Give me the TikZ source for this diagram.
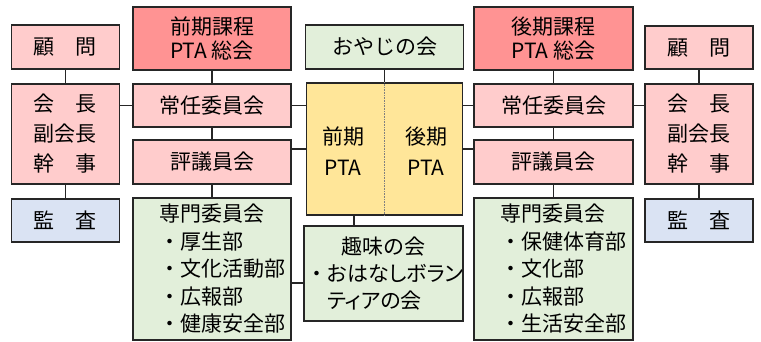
\documentclass[tikz,border=0pt]{standalone}
\usepackage{fontspec}
\newfontfamily\jpfont{Noto Sans CJK JP}
\newfontfamily\jpprop{Noto Sans CJK JP}[RawFeature=+palt]
\definecolor{pinkL}{HTML}{FFCCCC}
\definecolor{pinkD}{HTML}{FF9393}
\definecolor{greenL}{HTML}{E2EFDA}
\definecolor{yellowL}{HTML}{FFE699}
\definecolor{blueL}{HTML}{DAE3F3}
\tikzset{
  box/.style={draw=black!85, line width=1.5pt, inner sep=0pt, align=center,
    font=\jpfont\fontsize{21}{27}\selectfont},
  pinkbox/.style={box, fill=pinkL},
  redbox/.style={box, fill=pinkD},
  greenbox/.style={box, fill=greenL},
  yellowbox/.style={box, fill=yellowL},
  bluebox/.style={box, fill=blueL},
  link/.style={line width=1.5pt, black!85},
}

\begin{document}
\begin{tikzpicture}[x=1pt, y=-1pt]
  \useasboundingbox (0,0) rectangle (761,342);
  % left side
  \node[pinkbox, minimum width=108, minimum height=44] (komonL) at (65.5,47) {顧　問};
  \node[pinkbox, minimum width=108, minimum height=100,
    font=\jpfont\fontsize{21}{30}\selectfont] (kaichoL) at (65.5,134) {会　長\\副会長\\幹　事};
  \node[bluebox, minimum width=108, minimum height=43] (kansaL) at (65.5,220.5) {監　査};
  \node[redbox, minimum width=158, minimum height=63,
    font=\jpfont\fontsize{21}{24}\selectfont] (zenkiSokai) at (212,38.5) {前期課程\\PTA 総会};
  \node[pinkbox, minimum width=158, minimum height=43] (jouninL) at (212,105.5) {常任委員会};
  \node[pinkbox, minimum width=158, minimum height=44] (hyogiL) at (212,162) {評議員会};
  \node[greenbox, align=left, text width=106, inner xsep=26, minimum height=142,
    font=\jpfont\fontsize{21}{27.5}\selectfont] (senmonL) at (212,269)
    {専門委員会\\・厚生部\\・文化活動部\\・広報部\\・健康安全部};
  % middle
  \node[greenbox, minimum width=158, minimum height=44] (oyaji) at (384.5,47) {おやじの会};
  \node[yellowbox, minimum width=156, minimum height=132] (pta) at (384.5,149) {};
  \draw[densely dotted, gray, line width=0.6pt] (pta.north) -- (pta.south);
  \node[font=\jpfont\fontsize{21}{31}\selectfont, align=center] (ptaFirst) at (343,151.5) {前期\\PTA};
  \node[font=\jpfont\fontsize{21}{31}\selectfont, align=center] (ptaSecond) at (426,151.5) {後期\\PTA};
  \node[greenbox, align=left, text width=155, inner xsep=2, minimum height=95] (hobby) at (383.5,273.5)
    {\makebox[155pt]{趣味の会}\\・{\jpprop おはなしボラン}\\\phantom{・}{\jpprop ティアの会}};
  % right side
  \node[redbox, minimum width=159, minimum height=63,
    font=\jpfont\fontsize{21}{24}\selectfont] (koukiSokai) at (553.5,38.5) {後期課程\\PTA 総会};
  \node[pinkbox, minimum width=159, minimum height=43] (jouninR) at (553.5,105.5) {常任委員会};
  \node[pinkbox, minimum width=159, minimum height=44] (hyogiR) at (553.5,162) {評議員会};
  \node[greenbox, align=left, text width=107, inner xsep=26, minimum height=142,
    font=\jpfont\fontsize{21}{27.5}\selectfont] (senmonR) at (553.5,269)
    {専門委員会\\・保健体育部\\・文化部\\・広報部\\・生活安全部};
  \node[pinkbox, minimum width=108, minimum height=43] (komonR) at (699,47.5) {顧　問};
  \node[pinkbox, minimum width=108, minimum height=100,
    font=\jpfont\fontsize{21}{30}\selectfont] (kaichoR) at (699,134) {会　長\\副会長\\幹　事};
  \node[bluebox, minimum width=108, minimum height=43] (kansaR) at (699,220.5) {監　査};
  % connectors
  \foreach \a/\b in {komonL/kaichoL, kaichoL/kansaL, zenkiSokai/jouninL, jouninL/hyogiL,
    hyogiL/senmonL, oyaji/pta, koukiSokai/jouninR, jouninR/hyogiR, hyogiR/senmonR,
    komonR/kaichoR, kaichoR/kansaR}
    \draw[link] (\a.south) -- (\b.north);
  \draw[link] (kaichoL.east |- jouninL.west) -- (jouninL.west);
  \draw[link] (jouninL.east) -- (jouninL.east -| pta.west);
  \draw[link] (pta.west) -- (pta.west -| hyogiL.east);
  \draw[link] (jouninR.west) -- (jouninR.west -| pta.east);
  \draw[link] (pta.east) -- (pta.east -| hyogiR.west);
  \draw[link] (jouninR.east) -- (jouninR.east -| kaichoR.west);
  \draw[link] ([xshift=-30.5pt]pta.south) -- ([xshift=-30.5pt]pta.south |- hobby.north);
  \draw[link] ([yshift=-9.5pt]hobby.west) -- ([yshift=-9.5pt]hobby.west -| senmonL.east);
\end{tikzpicture}
\end{document}
